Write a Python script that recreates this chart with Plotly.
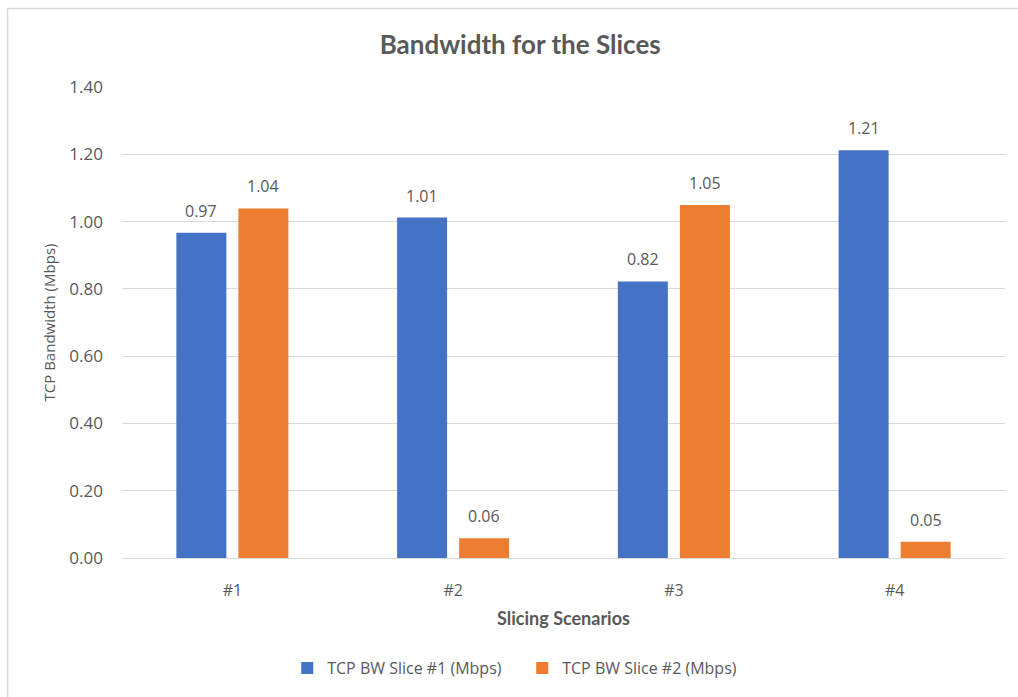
import plotly.graph_objects as go

categories = ["#1", "#2", "#3", "#4"]
slice1 = [0.967, 1.012, 0.822, 1.212]
slice2 = [1.039, 0.059, 1.049, 0.048]
series_names = ["TCP BW Slice #1 (Mbps)", "TCP BW Slice #2 (Mbps)"]
y_ticks = [0, 0.2, 0.4, 0.6, 0.8, 1.0, 1.2, 1.4]

BLUE = "#4472C4"
ORANGE = "#ED7D31"
GRAY = "#595959"
FONT = "Open Sans"
TFONT = "Lato"

L, R, T, B = 122, 13, 87, 139
W, H = 1018, 697
pw, ph = W - L - R, H - T - B
cat_px = pw / len(categories)
BARGAP, GROUPGAP = 0.438, 0.194
slot_px = cat_px * (1 - BARGAP) / 2

fig = go.Figure()
annotations = []
for k, (vals, name, col) in enumerate([(slice1, series_names[0], BLUE), (slice2, series_names[1], ORANGE)]):
    fig.add_trace(go.Bar(
        x=categories, y=vals, name=name, marker=dict(color=col, line=dict(width=0)),
    ))
    shift = (k - 0.5) * slot_px
    for c, v in zip(categories, vals):
        annotations.append(dict(x=c, y=v, xref="x", yref="y", text=f"{v:.2f}",
                                showarrow=False, xshift=shift, yshift=9,
                                yanchor="bottom", xanchor="center",
                                font=dict(family=FONT, size=16, color=GRAY)))

fig.update_layout(
    width=W, height=H,
    margin=dict(l=L, r=R, t=T, b=B),
    paper_bgcolor="white", plot_bgcolor="white",
    barmode="group", bargap=BARGAP, bargroupgap=GROUPGAP,
    title=dict(text="<b>Bandwidth for the Slices</b>", x=0.511, xanchor="center",
               y=1 - 45 / H, yanchor="middle",
               font=dict(family=TFONT, size=26, color=GRAY)),
    font=dict(family=FONT, color=GRAY),
    showlegend=True,
    legend=dict(orientation="h", x=0.513, xanchor="center",
                xref="container", y=1 - 668 / H, yref="container", yanchor="middle",
                font=dict(family=FONT, size=16, color=GRAY), itemwidth=30,
                traceorder="normal", entrywidth=190),
    yaxis=dict(range=[0, 1.4], tickvals=y_ticks, tickformat=".2f",
               showgrid=True, gridcolor="#D9D9D9", gridwidth=1.3,
               zeroline=False, showline=False, ticks="",
               ticklabelstandoff=18,
               tickfont=dict(family=FONT, size=17, color=GRAY),
               title=dict(text="TCP Bandwidth (Mbps)", standoff=10,
                          font=dict(family=FONT, size=15, color=GRAY))),
    xaxis=dict(showgrid=False, showline=True, linecolor="#D9D9D9", linewidth=1.3,
               ticks="", ticklabelstandoff=18,
               tickfont=dict(family=FONT, size=16, color=GRAY),
               title=dict(text="<b>Slicing Scenarios</b>", standoff=12,
                          font=dict(family=TFONT, size=18, color=GRAY))),
    annotations=annotations,
    shapes=[dict(type="rect", xref="paper", yref="paper",
                 x0=(7.5 - L) / pw, x1=(1030 - L) / pw,
                 y0=(H - B - 710) / ph, y1=(H - B - 8.5) / ph,
                 line=dict(color="#D9D9D9", width=1.5), fillcolor="rgba(0,0,0,0)",
                 layer="below")],
)

fig.write_html("out.html")
